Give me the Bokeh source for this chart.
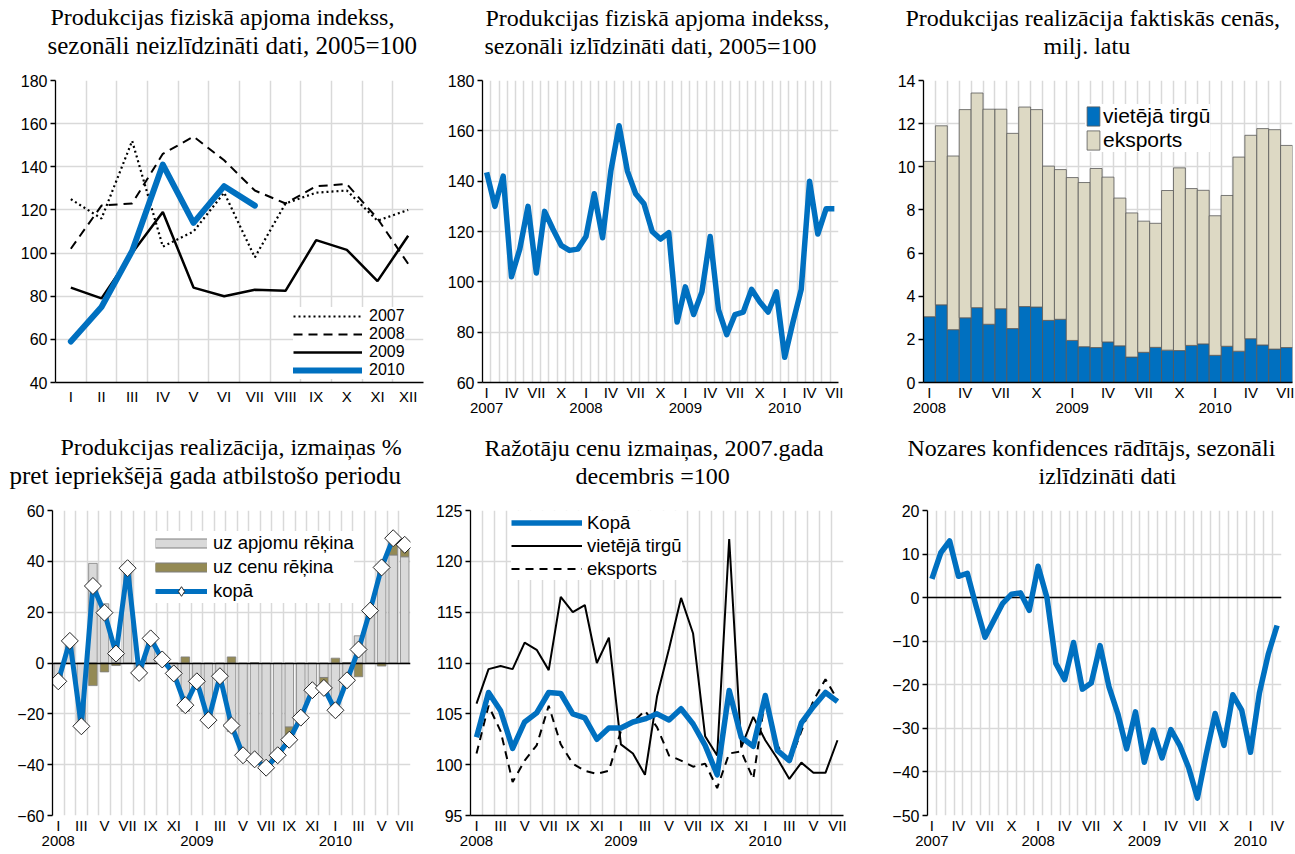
import numpy as np
from bokeh.plotting import figure
from bokeh.models import (FixedTicker, LinearAxis, Title, Legend, LegendItem,
                          ColumnDataSource, Range1d)
from bokeh.layouts import row, column
from bokeh.embed import file_html
from bokeh.resources import INLINE

SANS = "Liberation Sans"
SERIF = "Liberation Serif"
BLUE = "#0070C0"
GRID = "#D9D9D9"
ROMAN = ["I", "II", "III", "IV", "V", "VI", "VII", "VIII", "IX", "X", "XI", "XII"]

# ---------------- data ----------------
# Panel 1: production volume index, not seasonally adjusted (2005=100)
p1_months = ROMAN
p1_2007 = [125, 116, 152, 103, 110, 128, 98, 123, 128, 129, 115, 120]
p1_2008 = [102, 122, 123, 146, 154, 143, 129, 123, 131, 132, 116, 95]
p1_2009 = [84, 79, 100, 119, 84, 80, 83, 82.5, 106, 101.5, 87, 108]
p1_2010 = [59, 75, 101, 141, 114, 131, 122]

# Panel 2: production volume index, seasonally adjusted, 2007-I .. 2010-VII
p2_years = ["2007", "2008", "2009", "2010"]
p2_index = [143.5, 130, 142, 102, 113, 130, 103.5, 128, 121, 114.5, 112.5, 113,
            118, 135, 117.5, 144, 162, 144, 135, 131, 120, 117, 119.5, 84,
            98, 87, 96, 118, 89, 79, 87, 88, 97, 92, 88, 96,
            70, 84, 97, 140, 119, 129, 129]

# Panel 3: sales in current prices, mln LVL, 2008-I .. 2010-VII
p3_years = ["2008", "2009", "2010"]
p3_domestic = [3.05, 3.6, 2.45, 3.0, 3.47, 2.7, 3.42, 2.5, 3.52, 3.5, 2.88, 2.93,
               1.95, 1.66, 1.62, 1.88, 1.7, 1.18, 1.4, 1.63, 1.5, 1.48, 1.72, 1.79,
               1.26, 1.68, 1.45, 2.03, 1.74, 1.55, 1.62]
p3_export = [7.2, 8.3, 8.05, 9.65, 9.95, 9.97, 9.25, 9.05, 9.25, 9.15, 7.15, 6.94,
             7.55, 7.61, 8.3, 7.64, 6.85, 6.68, 6.08, 5.75, 7.4, 8.47, 7.27, 7.12,
             6.47, 6.99, 9.0, 9.43, 10.03, 10.17, 9.37]

# Panel 4: sales change % vs same period of previous year, 2008-I .. 2010-VII
p4_years = ["2008", "2009", "2010"]
p4_volume = [-6, 8, -23, 39.2, 23.3, 4.7, 36.5, -4, 9, 1, -4, -19,
             -7, -22, -5, -27, -36, -38, -41, -36, -25.2, -21, -10.5, -5.7,
             -20.5, -7, 10.7, 20.2, 38.8, 42.5, 41.8]
p4_price = [-1.2, 0.7, -1.9, -8.9, -3.5, -1, 0.8, 0.1, 0.7, 0.4, -0.1, 2.4,
            -0.2, -0.5, -0.2, 2.4, -0.3, 0.1, -0.2, -0.3, -5, -0.5, -0.2, -4.1,
            1.9, 0.2, -5.4, 0.4, -1.2, 6.6, 4.7]
p4_total = [-7.2, 8.7, -24.9, 30.3, 19.8, 3.7, 37.3, -3.9, 9.7, 1.4, -4.1, -16.6,
            -7.2, -22.5, -5.2, -24.6, -36.3, -37.9, -41.2, -36.3, -30.2, -21.5, -10.7, -9.8,
            -18.6, -6.8, 5.3, 20.6, 37.6, 49.1, 46.5]

# Panel 5: producer prices, Dec 2007 = 100, 2008-I .. 2010-VII
p5_years = ["2008", "2009", "2010"]
p5_total = [102.7, 107.1, 105.3, 101.6, 104.2, 105.1, 107.1, 107.0, 105.0, 104.6, 102.5, 103.6,
            103.6, 104.2, 104.5, 105.0, 104.4, 105.5, 104.0, 101.9, 99.0, 107.3, 102.7, 101.8,
            106.8, 101.4, 100.4, 104.1, 105.7, 107.1, 106.2]
p5_domestic = [106.0, 109.4, 109.7, 109.4, 112.0, 111.3, 109.3, 116.5, 115.0, 115.7, 110.0, 112.5,
               102.0, 101.1, 99.0, 106.7, 111.4, 116.4, 112.9, 102.8, 100.9, 122.2, 101.7, 104.7,
               102.4, 100.6, 98.6, 100.2, 99.2, 99.2, 102.4]
p5_export = [101.1, 105.8, 103.3, 98.3, 100.4, 101.9, 105.8, 102.0, 100.1, 99.4, 99.1, 99.4,
             103.3, 104.2, 105.3, 103.7, 100.9, 100.4, 99.8, 100.1, 97.7, 101.1, 101.3, 98.6,
             106.6, 101.9, 100.1, 103.3, 106.3, 108.4, 106.4]

# Panel 6: industry confidence indicator, 2007-I .. 2010-IV
p6_years = ["2007", "2008", "2009", "2010"]
p6_conf = [4.3, 10.3, 13.0, 4.9, 5.6, -2.0, -9.1, -5.2, -1.3, 0.8, 1.1, -2.9,
           7.2, 0.0, -15.1, -18.8, -10.3, -21.0, -19.6, -11.0, -20.4, -26.6, -34.7, -26.2,
           -37.8, -30.4, -36.8, -30.3, -33.9, -39.0, -46.0, -35.9, -26.6, -33.9, -22.3, -25.8,
           -35.5, -21.9, -13.0, -6.4]


# ---------------- helpers ----------------
def base(width, height, left, right, top, bottom, n, yr, yticks):
    p = figure(width=width, height=height, x_range=Range1d(-0.5, n - 0.5),
               y_range=Range1d(*yr), min_border_left=left, min_border_right=right,
               min_border_top=top, min_border_bottom=bottom,
               output_backend="svg", toolbar_location=None, title=None)
    p.outline_line_color = None
    p.background_fill_color = "white"
    p.border_fill_color = "white"
    yax = p.yaxis[0]
    yax.ticker = FixedTicker(ticks=yticks)
    yax.major_label_text_font = SANS
    yax.major_label_text_font_size = "16px"
    yax.major_label_text_color = "black"
    yax.axis_line_color = "black"
    yax.axis_line_width = 1.3
    yax.major_tick_out = 5
    yax.major_tick_in = 0
    yax.major_tick_line_color = "black"
    yax.major_tick_line_width = 1.3
    yax.minor_tick_line_color = None
    yax.major_label_standoff = 3
    p.ygrid.ticker = FixedTicker(ticks=yticks)
    p.ygrid.grid_line_color = GRID
    p.ygrid.grid_line_width = 1.5
    p.xgrid.ticker = FixedTicker(ticks=[i - 0.5 for i in range(n + 1)])
    p.xgrid.grid_line_color = GRID
    p.xgrid.grid_line_width = 1.5
    return p


def month_axis(p, n, step, standoff, line_color="black"):
    ticks = list(range(0, n, step))
    ax = p.xaxis[0]
    ax.ticker = FixedTicker(ticks=ticks)
    ax.major_label_overrides = {t: ROMAN[t % 12] for t in ticks}
    ax.major_label_text_font = SANS
    ax.major_label_text_font_size = "15px"
    ax.major_label_text_color = "black"
    ax.major_tick_line_color = None
    ax.major_tick_out = 0
    ax.major_tick_in = 0
    ax.minor_tick_line_color = None
    ax.minor_tick_out = 0
    ax.axis_line_color = line_color
    ax.axis_line_width = 1.3
    ax.major_label_standoff = standoff


def year_axis(p, years, standoff=-1):
    ticks = [12 * i for i in range(len(years))]
    ax = LinearAxis(ticker=FixedTicker(ticks=ticks),
                    major_label_overrides={t: y for t, y in zip(ticks, years)},
                    axis_line_color=None, major_tick_line_color=None,
                    major_tick_out=0, major_tick_in=0, minor_tick_out=0,
                    minor_tick_line_color=None, major_label_standoff=standoff,
                    major_label_text_font=SANS, major_label_text_font_size="15px",
                    major_label_text_color="black")
    p.add_layout(ax, "below")


def titles(p, l1, l2, off1, off2, size1="24px", size2="24px"):
    # spacer between the frame and the two title lines
    p.add_layout(Title(text=" ", text_font_size="18px", standoff=0), "above")
    t2 = Title(text=l2, align="left", offset=off2, text_font=SERIF, text_font_size=size2,
               text_font_style="normal", text_color="black", standoff=0)
    p.add_layout(t2, "above")
    t1 = Title(text=l1, align="left", offset=off1, text_font=SERIF, text_font_size=size1,
               text_font_style="normal", text_color="black", standoff=0)
    p.add_layout(t1, "above")


def legend(p, items, loc, size, gw, gh, padding=4, standoff=6):
    lg = Legend(items=items, location=loc, label_text_font=SANS,
                label_text_font_size=size, label_text_color="black",
                glyph_width=gw, glyph_height=gh, label_height=gh, spacing=0,
                padding=padding, margin=0, border_line_color=None,
                background_fill_color="white", background_fill_alpha=1.0,
                label_standoff=standoff)
    p.add_layout(lg)


def swatch(p, color, outline):
    src = ColumnDataSource(dict(x=[0], y=[np.nan]))
    a = p.line("x", "y", source=src, line_color=outline, line_width=10)
    b = p.line("x", "y", source=src, line_color=color, line_width=8)
    return [a, b]


# ---------------- panel 1 ----------------
p1 = base(436, 428, 55, 13, 80, 46, 12, (40, 180), list(range(40, 181, 20)))
month_axis(p1, 12, 1, 5)
titles(p1, "Produkcijas fiziskā apjoma indekss,", "sezonāli neizlīdzināti dati, 2005=100",
       -5, -8, size2="25px")
x12 = list(range(12))
r07 = p1.line(x12, p1_2007, line_color="black", line_width=2.2, line_dash="2 3")
r08 = p1.line(x12, p1_2008, line_color="black", line_width=2.0, line_dash="9 6")
r09 = p1.line(x12, p1_2009, line_color="black", line_width=2.5)
r10 = p1.line(list(range(len(p1_2010))), p1_2010, line_color=BLUE, line_width=6,
              line_join="round", line_cap="round")
legend(p1, [LegendItem(label="2007", renderers=[r07]),
            LegendItem(label="2008", renderers=[r08]),
            LegendItem(label="2009", renderers=[r09]),
            LegendItem(label="2010", renderers=[r10])],
       (238, 3), "16px", 69, 18, padding=3, standoff=7)

# ---------------- panel 2 ----------------
n2 = len(p2_index)
p2 = base(428, 428, 46, 26, 80, 46, n2, (60, 180), list(range(60, 181, 20)))
month_axis(p2, n2, 3, 1)
year_axis(p2, p2_years)
titles(p2, "Produkcijas fiziskā apjoma indekss,", "sezonāli izlīdzināti dati, 2005=100", 3, 2)
p2.line(list(range(n2)), p2_index, line_color=BLUE, line_width=5.5, line_join="round")

# ---------------- panel 3 ----------------
n3 = len(p3_domestic)
src3 = ColumnDataSource(dict(x=list(range(n3)), dom=p3_domestic, exp=p3_export))
p3 = base(430, 428, 59, 2, 80, 46, n3, (0, 14), list(range(0, 15, 2)))
month_axis(p3, n3, 3, 1)
year_axis(p3, p3_years)
titles(p3, "Produkcijas realizācija faktiskās cenās,", "milj. latu", -18, 120)
rs = p3.vbar_stack(["dom", "exp"], x="x", source=src3, width=1.0,
                   fill_color=[BLUE, "#DDD9C4"], line_color="#595959", line_width=0.8)
legend(p3, [LegendItem(label="vietējā tirgū", renderers=[rs[0]]),
            LegendItem(label="eksports", renderers=[rs[1]])],
       (162, 230), "21px", 16, 24, padding=4, standoff=2)

# ---------------- panel 4 ----------------
n4 = len(p4_total)
x4 = list(range(n4))
price_bottom = [v if v * c > 0 else 0 for v, c in zip(p4_volume, p4_price)]
price_top = [b + c for b, c in zip(price_bottom, p4_price)]
p4 = base(432, 425, 52, 22, 82, 38, n4, (-60, 60), list(range(-60, 61, 20)))
month_axis(p4, n4, 2, 1, line_color=None)
year_axis(p4, p4_years)
titles(p4, "Produkcijas realizācija, izmaiņas %", "pret iepriekšējā gada atbilstošo periodu",
       8, -43, size2="25px")
p4.vbar(x=x4, bottom=0, top=p4_volume, width=0.74, fill_color="#D9D9D9",
        line_color="#7F7F7F", line_width=0.8)
p4.vbar(x=x4, bottom=price_bottom, top=price_top, width=0.74, fill_color="#948A54",
        line_color="#7F7F7F", line_width=0.8)
p4.hspan(y=[0], line_color="black", line_width=1.3)
rk = p4.line(x4, p4_total, line_color=BLUE, line_width=5, line_join="round")
p4.scatter(x4, p4_total, marker="square", angle=np.pi / 4, size=12,
           fill_color="white", line_color="#262626", line_width=1)
mk_src = ColumnDataSource(dict(x=[0], y=[np.nan]))
lk_m = p4.scatter("x", "y", source=mk_src, marker="diamond", size=14,
                  fill_color="white", line_color="#262626", line_width=1)
legend(p4, [LegendItem(label="uz apjomu rēķina", renderers=swatch(p4, "#D9D9D9", "#7F7F7F")),
            LegendItem(label="uz cenu rēķina", renderers=swatch(p4, "#948A54", "#7F7F7F")),
            LegendItem(label="kopā", renderers=[rk, lk_m])],
       (103, 212), "18.5px", 52, 24, padding=4, standoff=6)

# ---------------- panel 5 ----------------
n5 = len(p5_total)
x5 = list(range(n5))
p5 = base(430, 425, 38, 19, 82, 38, n5, (95, 125), list(range(95, 126, 5)))
month_axis(p5, n5, 2, 1)
year_axis(p5, p5_years)
titles(p5, "Ražotāju cenu izmaiņas, 2007.gada", "decembris =100", 14, 105)
rd = p5.line(x5, p5_domestic, line_color="black", line_width=2)
re = p5.line(x5, p5_export, line_color="black", line_width=2, line_dash="8 6")
rt = p5.line(x5, p5_total, line_color=BLUE, line_width=5.5, line_join="round")
legend(p5, [LegendItem(label="Kopā", renderers=[rt]),
            LegendItem(label="vietējā tirgū", renderers=[rd]),
            LegendItem(label="eksports", renderers=[re])],
       (41, 235), "18.5px", 71, 23, padding=2, standoff=5)

# ---------------- panel 6 ----------------
n6 = len(p6_conf)
p6 = base(432, 425, 65, 13, 82, 38, n6, (-50, 20), list(range(-50, 21, 10)))
month_axis(p6, n6, 3, 1, line_color=None)
year_axis(p6, p6_years)
titles(p6, "Nozares konfidences rādītājs, sezonāli", "izlīdzināti dati", -20, 111)
p6.hspan(y=[0], line_color="black", line_width=1.3)
p6.line(list(range(n6)), p6_conf, line_color=BLUE, line_width=5.5, line_join="round")

layout = column(row(p1, p2, p3), row(p4, p5, p6))
open("out.html", "w").write(file_html(layout, INLINE))
